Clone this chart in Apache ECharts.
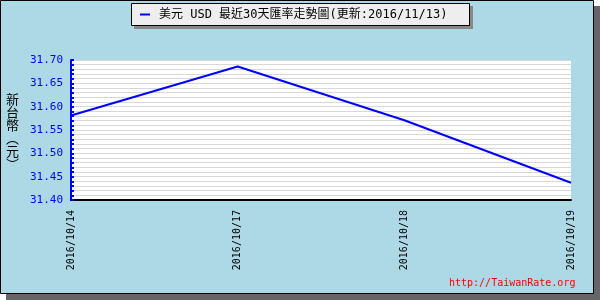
<!DOCTYPE html>
<html>
<head>
<meta charset="utf-8">
<script src="https://cdn.jsdelivr.net/npm/echarts@6/dist/echarts.min.js"></script>
<style>html,body{margin:0;padding:0;background:#fff}#c{width:600px;height:300px}</style>
</head>
<body>
<div id="c"></div>
<script>
const categories = ['2016/10/14', '2016/10/17', '2016/10/18', '2016/10/19'];
const usdRates = [31.581, 31.686, 31.571, 31.437];
const seriesName = '美元 USD 最近30天匯率走勢圖(更新:2016/11/13)';
const yMin = 31.40, yMax = 31.70, yStep = 0.05;

const mono = '"DejaVu Sans Mono", "Noto Sans CJK TC", monospace';
const chart = echarts.init(document.getElementById('c'), null, {renderer: 'canvas'});
chart.setOption({
  animation: false,
  backgroundColor: '#fff',
  graphic: [
    {type: 'rect', z: -100, silent: true, shape: {x: 6, y: 6, width: 594, height: 294}, style: {fill: '#666'}},
    {type: 'rect', z: -99, silent: true, shape: {x: 0.5, y: 0.5, width: 593, height: 293}, style: {fill: '#add8e6', stroke: '#000', lineWidth: 1}},
    {type: 'rect', z: -98, silent: true, shape: {x: 134, y: 6, width: 339, height: 23}, style: {fill: '#888'}},
    {type: 'rect', z: -97, silent: true, shape: {x: 131.5, y: 3.5, width: 338, height: 22}, style: {fill: '#eeeeee', stroke: '#000', lineWidth: 1}},
    {type: 'text', z: 10, left: 6, top: 93, style: {text: '新\n台\n幣\n︵\n元\n︶', fill: '#000', font: '13px "Noto Sans CJK TC"', lineHeight: 13, align: 'left'}},
    {type: 'text', z: 10, left: 449, top: 278, style: {text: 'http://TaiwanRate.org', fill: '#ff0000', font: '10px "DejaVu Sans Mono"'}}
  ],
  legend: {
    left: 140, top: 8, padding: 0,
    icon: 'rect', itemWidth: 10, itemHeight: 2,
    textStyle: {fontFamily: mono, fontSize: 12, color: '#000', lineHeight: 13, padding: [0, 0, 0, 4]},
    data: [seriesName]
  },
  grid: {left: 71, right: 29, top: 60, bottom: 100, show: true, backgroundColor: '#fff', borderWidth: 0},
  xAxis: {
    type: 'category', data: categories, boundaryGap: false,
    axisLine: {lineStyle: {color: '#000', width: 2}},
    axisTick: {show: false},
    axisLabel: {rotate: 90, color: '#000', fontFamily: mono, fontSize: 10, margin: 10, interval: 0},
    splitLine: {show: false}
  },
  yAxis: {
    type: 'value', min: yMin, max: yMax, interval: yStep,
    axisLine: {show: true, lineStyle: {color: '#0000ff', width: 2}},
    axisTick: {show: true, inside: true, length: 3, lineStyle: {color: '#0000ff', width: 2}},
    minorTick: {show: true, splitNumber: 5, length: 3, lineStyle: {color: '#0000ff', width: 2}},
    axisLabel: {color: '#0000ff', fontFamily: mono, fontSize: 11, margin: 8, formatter: v => v.toFixed(2)},
    splitLine: {show: true, lineStyle: {color: '#d8d8d8', width: 1}},
    minorSplitLine: {show: true, lineStyle: {color: '#d8d8d8', width: 1}}
  },
  series: [{
    name: seriesName, type: 'line', data: usdRates,
    showSymbol: false, symbol: 'none',
    lineStyle: {color: '#0000ff', width: 2},
    itemStyle: {color: '#0000ff'}
  }]
});
</script>
</body>
</html>
